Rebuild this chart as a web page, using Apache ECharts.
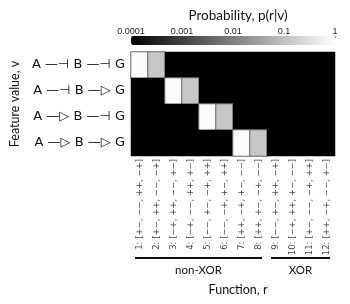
<!DOCTYPE html>
<html><head><meta charset="utf-8">
<script src="https://cdn.jsdelivr.net/npm/echarts@6/dist/echarts.min.js"></script>
<style>html,body{margin:0;padding:0;background:#fff}#c{width:350px;height:304px}</style>
</head><body><div id="c"></div>
<script>
// ---- data ----
const functionLabels = [
  '1: [+−, −−, ++, −+]', '2: [+−, ++, −−, −+]', '3: [−+, ++, −−, +−]', '4: [−+, −−, ++, +−]',
  '5: [−−, +−, −+, ++]', '6: [−−, −+, +−, ++]', '7: [++, −+, +−, −−]', '8: [++, +−, −+, −−]',
  '9: [−−, +−, ++, −+]', '10: [−+, ++, +−, −−]', '11: [+−, −−, −+, ++]', '12: [++, −+, −−, +−]'
];
const featureValues = ['A —⊣ B —⊣ G', 'A —⊣ B —▷ G', 'A —▷ B —⊣ G', 'A —▷ B —▷ G'];
const pRow1 = [0.87, 0.13, 1e-5, 1e-5, 1e-5, 1e-5, 1e-5, 1e-5, 1e-5, 1e-5, 1e-5, 1e-5];
const pRow2 = [1e-5, 1e-5, 0.87, 0.13, 1e-5, 1e-5, 1e-5, 1e-5, 1e-5, 1e-5, 1e-5, 1e-5];
const pRow3 = [1e-5, 1e-5, 1e-5, 1e-5, 0.87, 0.13, 1e-5, 1e-5, 1e-5, 1e-5, 1e-5, 1e-5];
const pRow4 = [1e-5, 1e-5, 1e-5, 1e-5, 1e-5, 1e-5, 0.87, 0.13, 1e-5, 1e-5, 1e-5, 1e-5];
const colorbarTicks = ['0.0001', '0.001', '0.01', '0.1', '1'];
const functionGroups = [
  { name: 'non-XOR', from: 0, to: 7 },
  { name: 'XOR', from: 8, to: 11 }
];

// ---- build ----
const rows = [pRow1, pRow2, pRow3, pRow4];
const heatData = [];
rows.forEach((row, r) => row.forEach((p, c) => {
  const v = Math.max(-4, Math.min(0, Math.log10(p)));
  const item = { value: [c, r, v] };
  if (p > 1e-4) item.itemStyle = { borderColor: '#666', borderWidth: 1 };
  heatData.push(item);
}));

const TXT = 'Lato, "Open Sans", sans-serif';
const chart = echarts.init(document.getElementById('c'), null, { renderer: 'canvas' });
chart.setOption({
  animation: false,
  backgroundColor: '#fff',
  title: [
    { text: 'Probability, p(r|v)', left: 233, top: 4, textAlign: 'center',
      textStyle: { fontSize: 13.5, fontWeight: 'normal', color: '#111', fontFamily: TXT } },
    { text: 'Function, r', left: 233, top: 278, textAlign: 'center',
      textStyle: { fontSize: 12.5, fontWeight: 'normal', color: '#111', fontFamily: TXT } }
  ],
  grid: [
    { left: 131, top: 52, width: 204, height: 104, show: false },
    { left: 131, top: 36, width: 204, height: 9, show: false }
  ],
  xAxis: [
    { type: 'category', gridIndex: 0, data: functionLabels, position: 'bottom',
      axisLine: { show: false }, axisTick: { show: false }, splitLine: { show: false },
      axisLabel: { rotate: 90, interval: 0, fontSize: 8.5, margin: 3, color: '#444',
        fontFamily: '"DejaVu Sans", sans-serif' } },
    { type: 'value', gridIndex: 1, min: -4, max: 0, interval: 1, position: 'top',
      axisLine: { show: false }, splitLine: { show: false },
      axisTick: { show: true, inside: true, length: 2, lineStyle: { color: '#999' } },
      axisLabel: { fontSize: 9, margin: 0, color: '#222', fontFamily: '"Liberation Sans", Arial, sans-serif',
        formatter: v => colorbarTicks[Math.round(v) + 4] } }
  ],
  yAxis: [
    { type: 'category', gridIndex: 0, data: featureValues, inverse: true,
      axisLine: { show: false }, axisTick: { show: false }, splitLine: { show: false },
      axisLabel: { fontSize: 13, margin: 6, color: '#111', fontFamily: '"DejaVu Sans", sans-serif' },
      name: 'Feature value, v', nameLocation: 'middle', nameGap: 98,
      nameTextStyle: { fontSize: 12.5, color: '#111', fontFamily: TXT } },
    { type: 'category', gridIndex: 1, data: [''], show: false }
  ],
  visualMap: {
    type: 'continuous', min: -4, max: 0, seriesIndex: 0, dimension: 2,
    orient: 'horizontal', left: 131, top: 36, itemHeight: 204, itemWidth: 9,
    padding: 0, text: null, calculable: false, hoverLink: false, realtime: false,
    inRange: { color: ['#000000', '#ffffff'] }
  },
  series: [
    { type: 'heatmap', xAxisIndex: 0, yAxisIndex: 0, data: heatData, emphasis: { disabled: true } }
  ]
});

// group brackets under the function labels, placed from the category axis
const half = chart.convertToPixel({ xAxisIndex: 0 }, 1) - chart.convertToPixel({ xAxisIndex: 0 }, 0);
const graphics = [];
functionGroups.forEach(g => {
  const x1 = chart.convertToPixel({ xAxisIndex: 0 }, g.from) - half / 2 + 4;
  const x2 = chart.convertToPixel({ xAxisIndex: 0 }, g.to) + half / 2 - 5;
  graphics.push({ type: 'line', shape: { x1, y1: 258, x2, y2: 258 }, style: { stroke: '#111', lineWidth: 2 } });
  graphics.push({ type: 'text', x: (x1 + x2) / 2, y: 264,
    style: { text: g.name, fontSize: 11.5, fill: '#111', textAlign: 'center', fontFamily: TXT } });
});
chart.setOption({ graphic: graphics });
</script></body></html>
